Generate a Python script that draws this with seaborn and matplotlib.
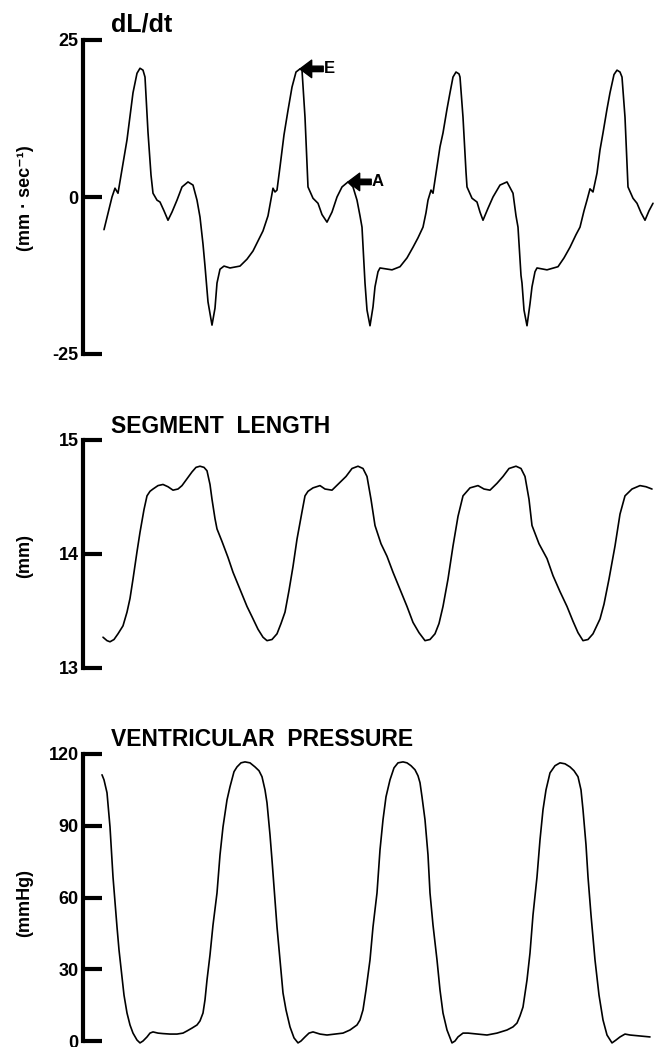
# recreate the three stacked hemodynamic traces (dL/dt, segment length, LV pressure)
import numpy as np
import pandas as pd
import seaborn as sns
import matplotlib.pyplot as plt

# ---- data (time in ms, arbitrary origin) ----
dldt_t = [52.5, 72.5, 80, 87.5, 110, 125, 135, 142.5, 150, 155, 162.5, 170, 175, 185, 192.5,
          202.5, 212.5, 222.5, 235, 247.5, 262.5, 275, 285, 292.5, 300, 305, 312.5, 322.5, 330,
          335, 342.5, 352.5, 367.5, 392.5, 410, 425, 437.5, 450, 462.5, 470, 475, 480, 485,
          492.5, 502.5, 512.5, 522.5, 532.5, 542.5, 547.5,
          555, 562.5, 575, 587.5, 597.5, 610, 622.5, 635, 647.5, 662.5, 675, 685, 692.5, 697.5,
          705, 710, 717.5, 725, 730, 737.5, 742.5, 772.5, 792.5, 810, 825, 837.5, 850, 857.5,
          862.5, 870, 875, 882.5, 892.5, 900, 910, 917.5, 925, 932.5, 940, 942.5,
          950, 957.5, 960, 972.5, 985, 992.5, 1000, 1012.5, 1025, 1042.5, 1060, 1075, 1082.5,
          1087.5, 1095, 1097.5, 1102.5, 1110, 1117.5, 1122.5, 1130, 1135, 1160, 1187.5, 1202.5,
          1217.5, 1232.5, 1242.5, 1252.5, 1260, 1267.5, 1275, 1285, 1292.5, 1300, 1310, 1317.5,
          1327.5, 1335, 1342.5, 1347.5, 1355, 1362.5, 1375, 1385, 1395, 1405, 1415, 1425]
dldt_v = [-5.2, 0.0, 1.4, 0.6, 9.1, 16.6, 19.7, 20.5, 20.2, 19.1, 10.3, 3.5, 0.6, -0.5, -0.8,
          -2.2, -3.7, -2.4, -0.5, 1.6, 2.4, 1.9, -0.5, -3.2, -7.5, -11.0, -16.7, -20.4, -17.7,
          -13.7, -11.5, -11.0, -11.3, -11.0, -9.9, -8.6, -7.0, -5.4, -3.0, -0.3, 1.4, 0.8, 1.1,
          4.8, 9.9, 13.8, 17.5, 19.9, 20.4, 20.2,
          12.7, 1.6, -0.2, -1.0, -2.8, -4.0, -2.4, 0.0, 1.6, 2.4, 1.6, -0.5, -3.0, -4.8,
          -13.7, -18.0, -20.5, -17.5, -14.3, -11.9, -11.3, -11.6, -11.1, -9.7, -8.0, -6.5, -4.8, -2.5,
          -0.5, 1.1, 0.6, 3.8, 8.0, 10.2, 14.0, 16.6, 19.1, 19.9, 19.6, 19.1,
          12.7, 4.0, 1.6, -0.2, -0.8, -2.4, -3.7, -1.8, 0.0, 1.9, 2.4, 0.6, -3.0,
          -4.8, -12.5, -13.7, -18.0, -20.5, -17.0, -14.3, -11.9, -11.3, -11.6, -11.1, -9.7,
          -8.0, -6.0, -4.8, -2.2, -0.5, 1.3, 0.8, 3.8, 7.5, 10.2, 14.0, 16.6,
          19.5, 20.2, 19.9, 19.1, 12.7, 1.6, -0.2, -1.0, -2.5, -3.7, -2.2, -1.0]

seg_t = [50, 60, 67.5, 77.5, 87.5, 100, 110, 117.5, 125, 135, 142.5, 152.5, 160, 167.5, 175,
         187.5, 200, 212.5, 225, 237.5, 247.5, 260, 272.5, 282.5, 292.5, 302.5, 310, 317.5,
         322.5, 330, 335, 347.5, 362.5, 375, 392.5, 410, 422.5, 437.5, 450, 460, 472.5, 485,
         495, 505, 515, 525, 535, 547.5, 555, 562.5, 575, 592.5, 605, 622.5, 640, 657.5, 672.5,
         687.5, 700, 710, 720, 730, 745, 760, 775, 792.5, 810, 825, 840, 855, 867.5, 880, 890,
         900, 912.5, 925, 937.5, 950, 967.5, 987.5, 1002.5, 1017.5, 1035, 1050, 1065, 1082.5,
         1095, 1105, 1115, 1122.5, 1140, 1160, 1175, 1192.5, 1210, 1225, 1237.5, 1250, 1262.5,
         1275, 1292.5, 1302.5, 1315, 1330, 1342.5, 1355, 1372.5, 1392.5, 1407.5, 1422.5]
seg_v = [13.27, 13.24, 13.23, 13.25, 13.30, 13.37, 13.49, 13.61, 13.78, 14.02, 14.19, 14.39,
         14.51, 14.55, 14.57, 14.60, 14.61, 14.59, 14.56, 14.57, 14.60, 14.66, 14.72, 14.76,
         14.77, 14.76, 14.73, 14.61, 14.48, 14.31, 14.22, 14.11, 13.97, 13.84, 13.69, 13.54,
         13.45, 13.34, 13.27, 13.24, 13.25, 13.30, 13.39, 13.49, 13.68, 13.89, 14.13, 14.37,
         14.51, 14.55, 14.58, 14.60, 14.57, 14.56, 14.62, 14.68, 14.75, 14.77, 14.75, 14.68,
         14.48, 14.25, 14.09, 13.98, 13.84, 13.69, 13.54, 13.40, 13.31, 13.24, 13.25, 13.30,
         13.39, 13.54, 13.78, 14.07, 14.33, 14.51, 14.58, 14.60, 14.57, 14.56, 14.62, 14.68,
         14.75, 14.77, 14.75, 14.68, 14.48, 14.25, 14.09, 13.96, 13.81, 13.67, 13.54, 13.41,
         13.31, 13.24, 13.25, 13.30, 13.43, 13.56, 13.78, 14.07, 14.35, 14.51, 14.57, 14.60,
         14.59, 14.57]

lvp_t = [47.5, 52.5, 60, 67.5, 75, 85, 90, 97.5, 102.5, 110, 117.5, 125, 135, 142.5, 150, 160,
         167.5, 175, 187.5, 200, 217.5, 235, 250, 260, 272.5, 285, 292.5, 300, 305, 310, 317.5,
         325, 335, 342.5, 350, 360, 367.5, 377.5, 385, 395, 405, 417.5, 430, 440, 447.5, 455,
         460, 467.5, 472.5, 480, 485, 492.5, 500, 507.5, 517.5, 527.5, 537.5, 545, 555, 565,
         575, 592.5, 610, 630, 650, 667.5, 685, 692.5, 700, 707.5, 717.5, 725, 735, 742.5, 750,
         757.5, 767.5, 777.5, 787.5, 800, 810, 820, 830, 837.5, 842.5, 847.5, 855, 862.5, 867.5,
         875, 885, 892.5, 900, 910, 922.5, 930, 937.5, 950, 962.5, 985, 1010, 1035, 1060, 1075,
         1085, 1092.5, 1100, 1110, 1117.5, 1125, 1135, 1142.5, 1150, 1157.5, 1167.5, 1180,
         1192.5, 1205, 1217.5, 1227.5, 1237.5, 1245, 1250, 1257.5, 1262.5, 1270, 1280, 1290,
         1300, 1310, 1322.5, 1332.5, 1342.5, 1355, 1367.5, 1392.5, 1417.5]
lvp_v = [111.3, 109.2, 103.8, 89.5, 68.6, 47.7, 38.1, 26.8, 19.2, 11.7, 6.7, 3.3, 0.4, -0.8,
         0.0, 1.7, 3.3, 3.8, 3.3, 3.1, 2.9, 2.9, 3.3, 4.2, 5.4, 6.7, 8.4, 11.7, 17.2, 25.5, 36.0,
         48.5, 61.9, 77.8, 89.5, 100.8, 106.3, 112.6, 114.6, 116.3, 116.7, 116.3, 114.6, 113.0,
         110.5, 105.0, 99.6, 86.2, 75.7, 59.0, 47.7, 33.9, 20.1, 13.0, 5.9, 1.3, -0.8, 0.0, 1.7,
         3.3, 3.8, 2.9, 2.5, 2.9, 3.3, 4.6, 6.7, 8.8, 13.0, 21.3, 33.9, 47.7, 61.9, 79.9, 92.5,
         102.1, 109.2, 114.2, 116.3, 116.7, 116.3, 115.1, 113.4, 110.9, 108.0, 102.1, 92.5, 77.8,
         61.9, 48.5, 33.9, 21.3, 11.7, 4.6, -0.8, 0.0, 1.7, 3.3, 3.3, 2.9, 2.5, 3.3, 4.6, 5.9,
         7.5, 10.5, 14.2, 25.5, 36.8, 52.7, 68.6, 84.1, 96.7, 105.0, 112.1, 115.1, 116.3, 115.9,
         114.6, 113.0, 110.5, 105.0, 96.7, 82.0, 68.6, 52.7, 33.9, 19.2, 8.8, 2.5, -0.8, 0.4,
         1.7, 2.9, 2.5, 2.1, 1.7]

panel_titles = ["dL/dt", "SEGMENT  LENGTH", "VENTRICULAR  PRESSURE"]
panel_units = ["(mm · sec⁻¹)", "(mm)", "(mmHg)"]
panel_ticks = [[-25, 0, 25], [13, 14, 15], [0, 30, 60, 90, 120]]
peak_labels = ["E", "A"]
peak_t = [542.5, 662.5]
peak_v = [20.4, 2.4]

sns.set_style("ticks")
plt.rcParams['font.family'] = ['Liberation Sans', 'DejaVu Sans']
plt.rcParams['font.weight'] = 'bold'
plt.rcParams['axes.unicode_minus'] = False
plt.rcParams['text.color'] = 'black'
plt.rcParams['ytick.color'] = 'black'
plt.rcParams['ytick.labelcolor'] = 'black'
plt.rcParams['axes.edgecolor'] = 'black'

W, H = 654, 1047
fig = plt.figure(figsize=(W / 100, H / 100), dpi=100)
fig.patch.set_facecolor('white')

# pixel boxes of the panels: (top of axis, bottom of axis)
boxes = [(40, 354), (440, 668), (754, 1041)]
title_base = [31, 433, 746]
unit_y = [198, 556, 903]
series = [(dldt_t, dldt_v), (seg_t, seg_v), (lvp_t, lvp_v)]

for i in range(3):
    top, bot = boxes[i]
    ax = fig.add_axes([83 / W, 1 - bot / H, (W - 83) / W, (bot - top) / H])
    df = pd.DataFrame({"t": series[i][0], "v": series[i][1]})
    sns.lineplot(data=df, x="t", y="v", ax=ax, color="black", lw=1.2,
                 estimator=None, sort=False)
    for ln in ax.lines:
        ln.set_clip_on(False)
        ln.set_solid_joinstyle("round")
    ax.set_xlim(0, (W - 83) * 2.5)
    ax.set_ylim(panel_ticks[i][0], panel_ticks[i][-1])
    ax.set_yticks(panel_ticks[i])
    ax.set_yticklabels([str(k) for k in panel_ticks[i]], fontsize=13, fontweight='bold',
                       color='black')
    ax.set_xticks([])
    ax.set_xlabel("")
    ax.set_ylabel("")
    for s in ["top", "right", "bottom"]:
        ax.spines[s].set_visible(False)
    ax.spines["left"].set_linewidth(3)
    ax.spines["left"].set_color("black")
    ax.spines["left"].set_capstyle("projecting")
    ax.tick_params(axis="y", direction="in", length=13.5, width=3, pad=3, color="black")
    ax.patch.set_alpha(0)

    fig.text(111 / W, 1 - title_base[i] / H, panel_titles[i], fontsize=16.5 if i else 18,
             fontweight='bold', va='baseline', ha='left', color='black')
    fig.text(25 / W, 1 - unit_y[i] / H, panel_units[i], fontsize=13, fontweight='bold',
             rotation=90, va='center', ha='center', color='black')

    if i == 0:
        # E and A wave arrows
        for lab, pt, pv in zip(peak_labels, peak_t, peak_v):
            ax.annotate("", xy=(pt, pv), xytext=(pt + 58, pv),
                        arrowprops=dict(arrowstyle="simple,head_length=0.6,head_width=0.9,tail_width=0.28",
                                        color="black", mutation_scale=14, shrinkA=0, shrinkB=0))
            ax.text(pt + 74, pv, lab, fontsize=12, fontweight='bold', va='center', ha='center',
                    color='black')

fig.savefig("out.png", dpi=100, facecolor='white')
